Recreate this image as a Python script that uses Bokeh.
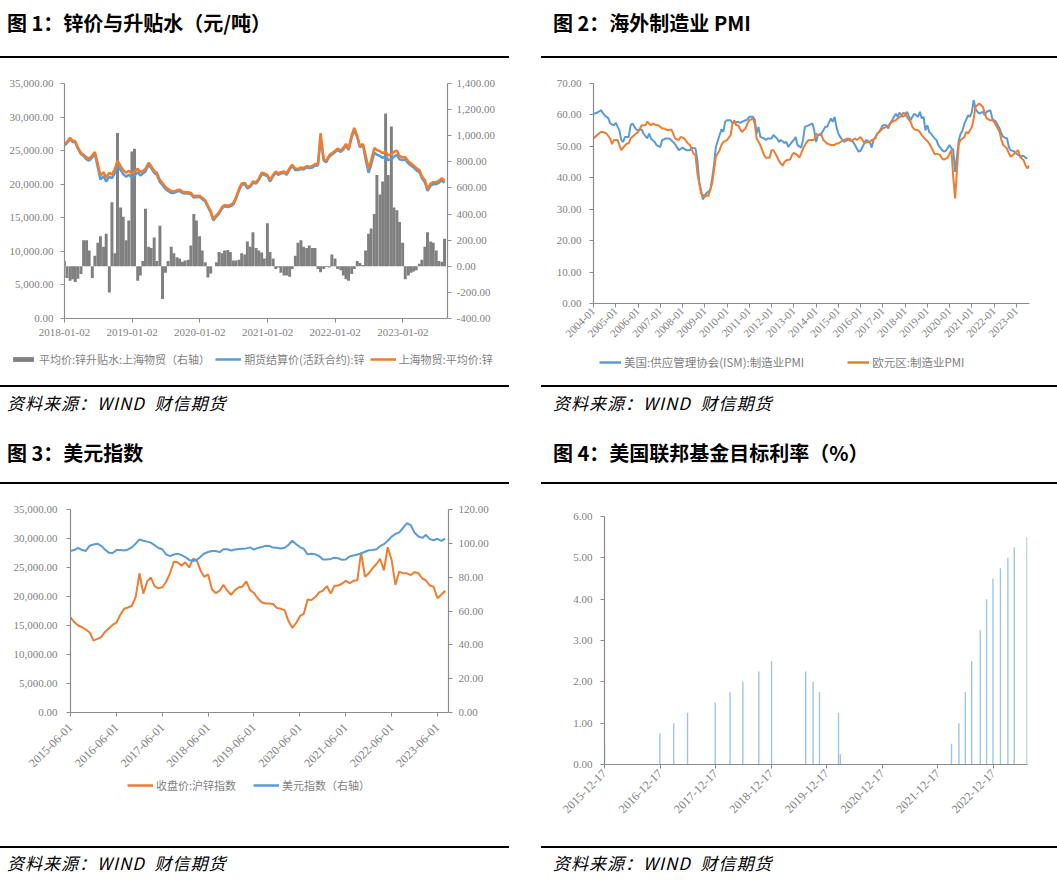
import pandas as pd
from bokeh.plotting import figure
from bokeh.models import (ColumnDataSource, Range1d, LinearAxis, FixedTicker,
                          NumeralTickFormatter, DatetimeTickFormatter, Legend,
                          LegendItem, Div, Spacer)
from bokeh.layouts import column, row
from bokeh.embed import file_html
from bokeh.resources import INLINE
from math import pi

# ---------------------------------------------------------------- colours
ORANGE = "#ED7D31"
BLUE = "#5B9BD5"
GRAY = "#808080"
FED = "#9DC3E6"
AXIS = "#8C8C8C"
LBL = "#7F7F7F"

# ---------------------------------------------------------------- chart 1 data (semi-monthly)
zinc_dates = pd.date_range("2018-01-01", "2023-08-15", freq="SMS")
zinc_ticks = ["2018-01-02", "2019-01-02", "2020-01-02", "2021-01-02", "2022-01-02", "2023-01-02"]
premium = [40, -90, -110, -100, -120, -95, -60, 200, 200, 120,
           -90, 80, 180, 230, 150, 250, -200, 490, 100, 1020,
           450, 380, 200, 350, 880, 900, -110, -70, 40, 440,
           150, 140, 220, 40, 310, -250, -50, 40, 150, 100,
           70, 60, 35, 45, 50, 160, 400, 350, 230, 120,
           30, -85, -55, 0, 30, 110, 100, 120, 125, 110,
           45, 45, 50, 100, 90, 190, 150, 260, 140, 120,
           105, 60, 330, 110, 60, -20, -10, -50, -70, -70,
           -80, -20, 80, 180, 200, 150, 140, 160, 140, 140,
           -20, -45, -20, -5, -10, 90, 60, -20, -30, -70,
           -100, -110, -60, -20, 40, 25, 10, 120, 250, 290,
           400, 700, 550, 650, 1170, 700, 1070, 450, 430, 340,
           180, -100, -70, -50, -40, -30, 20, 50, 150, 260,
           190, 180, 120, 40, 35, 210]
spot_avg = [26000, 26300, 26900, 26500, 26400, 25500, 24700, 24400, 24000, 23800,
            24300, 24800, 23000, 21300, 21800, 21000, 21700, 21400, 22300, 23500,
            22700, 22100, 21700, 22000, 21600, 21900, 22300, 21800, 22000, 22300,
            23200, 22700, 22000, 21700, 20600, 20200, 19600, 19300, 19000, 18900,
            19100, 19200, 18900, 18800, 18800, 18700, 18200, 18300, 18300, 18000,
            17600, 16800, 16000, 14800, 15400, 15800, 16600, 16900, 16800, 16900,
            17200, 18000, 19300, 20100, 20200, 19600, 19800, 20400, 20300, 20800,
            21700, 21600, 21400, 20600, 21400, 21900, 21600, 21800, 21900, 21600,
            22400, 22900, 22300, 22300, 22500, 22400, 22700, 22600, 22700, 23000,
            23000, 27600, 23700, 23500, 24300, 24600, 25000, 25300, 25000, 25400,
            26000, 25300, 27300, 28400, 27200, 25700, 26000, 24300, 22300, 23600,
            25400, 25100, 24900, 24600, 24900, 24300, 24400, 24800, 25000, 24200,
            24000, 24000, 23400, 23100, 22800, 22400, 22100, 21200, 20600, 19300,
            20100, 20300, 20300, 20500, 20900, 20500]
futures_settle = [25800, 26100, 26700, 26300, 26200, 25300, 24500, 24200, 23700, 23500,
                  24000, 24500, 22500, 20700, 21200, 20400, 21100, 20900, 21700, 22900,
                  22100, 21500, 21100, 21400, 21000, 21300, 21800, 21300, 21600, 21900,
                  22900, 22400, 21700, 21400, 20300, 19900, 19300, 19000, 18700, 18700,
                  18900, 19000, 18700, 18600, 18600, 18500, 18000, 18100, 18100, 17800,
                  17400, 16600, 15800, 14600, 15200, 15600, 16400, 16700, 16600, 16700,
                  17000, 17800, 19100, 19900, 20000, 19400, 19600, 20200, 20100, 20600,
                  21500, 21400, 21200, 20400, 21200, 21700, 21400, 21600, 21700, 21400,
                  22200, 22700, 22100, 22100, 22300, 22200, 22500, 22400, 22500, 22800,
                  22800, 26900, 23500, 23300, 24100, 24400, 24800, 25100, 24800, 25200,
                  25800, 25100, 27000, 28100, 27000, 25500, 25800, 23700, 21700, 22900,
                  24700, 24400, 24200, 23900, 24200, 23600, 23700, 24100, 24400, 23700,
                  23600, 23700, 23100, 22800, 22500, 22100, 21800, 20900, 20300, 19000,
                  19800, 20000, 20000, 20200, 20600, 20200]

# ---------------------------------------------------------------- chart 2 data (monthly PMI)
pmi_ticks = [f"{y}-01" for y in range(2004, 2024)]
ism_dates = ["2004-01", "2004-03", "2004-05", "2004-07", "2004-09", "2004-10", "2004-12",
             "2005-01", "2005-02", "2005-03", "2005-04", "2005-05", "2005-06", "2005-08", "2005-09", "2005-10", "2005-12",
             "2006-01", "2006-03", "2006-04", "2006-06", "2006-07", "2006-08", "2006-10", "2006-11",
             "2007-01", "2007-02", "2007-04", "2007-06", "2007-08", "2007-09", "2007-11",
             "2008-01", "2008-03", "2008-05", "2008-06", "2008-08", "2008-09", "2008-10", "2008-12",
             "2009-01", "2009-02", "2009-04", "2009-05", "2009-06", "2009-07", "2009-09", "2009-10", "2009-11", "2009-12",
             "2010-01", "2010-03", "2010-04", "2010-05", "2010-07", "2010-08", "2010-09", "2010-11", "2010-12",
             "2011-01", "2011-03", "2011-04", "2011-05", "2011-06", "2011-07", "2011-09", "2011-10", "2011-11",
             "2012-01", "2012-02", "2012-04", "2012-05", "2012-06", "2012-08", "2012-09", "2012-10", "2012-12",
             "2013-01", "2013-02", "2013-03", "2013-05", "2013-06", "2013-07", "2013-09", "2013-11", "2013-12",
             "2014-01", "2014-02", "2014-04", "2014-05", "2014-06", "2014-07", "2014-09", "2014-10", "2014-11", "2014-12",
             "2015-01", "2015-02", "2015-04", "2015-06", "2015-07", "2015-09", "2015-10", "2015-12",
             "2016-01", "2016-03", "2016-04", "2016-06", "2016-07", "2016-08", "2016-09", "2016-10", "2016-11",
             "2017-01", "2017-03", "2017-04", "2017-05", "2017-06", "2017-08", "2017-09", "2017-10", "2017-12",
             "2018-01", "2018-02", "2018-04", "2018-05", "2018-06", "2018-08", "2018-09", "2018-10", "2018-11", "2018-12",
             "2019-01", "2019-02", "2019-03", "2019-05", "2019-06", "2019-07", "2019-09", "2019-10", "2019-11",
             "2020-01", "2020-02", "2020-03", "2020-04", "2020-05", "2020-06", "2020-07", "2020-08", "2020-09", "2020-10", "2020-11", "2020-12",
             "2021-01", "2021-02", "2021-03", "2021-04", "2021-05", "2021-07", "2021-08", "2021-09", "2021-11", "2021-12",
             "2022-01", "2022-02", "2022-04", "2022-05", "2022-06", "2022-08", "2022-09", "2022-10", "2022-12",
             "2023-01", "2023-02", "2023-04", "2023-05", "2023-06", "2023-07"]
ism_pmi = [60.4, 60.7, 61.5, 59.9, 58.9, 57.3, 56.7,
           57.5, 56.2, 55.1, 52.0, 51.4, 53.0, 53.0, 56.7, 57.3, 55.4,
           55.1, 55.4, 54.1, 52.5, 54.1, 52.5, 51.4, 50.4,
           49.8, 52.0, 52.5, 52.5, 51.4, 50.7, 48.8,
           49.6, 48.8, 48.8, 49.6, 49.3, 45.6, 38.7, 33.1,
           34.5, 35.2, 36.1, 39.8, 44.0, 49.8, 53.6, 55.4, 54.6, 57.8,
           58.3, 58.3, 57.3, 57.5, 57.8, 57.5, 57.8, 58.3, 58.5,
           59.4, 59.4, 58.5, 54.1, 56.2, 53.0, 52.5, 52.0, 52.5,
           52.5, 53.6, 52.5, 51.4, 52.0, 51.1, 51.4, 49.8, 51.4,
           52.0, 53.0, 50.4, 49.6, 52.0, 56.2, 56.7, 57.3, 55.1,
           51.4, 53.6, 54.1, 55.1, 56.2, 56.2, 58.9, 57.8, 59.4, 56.2,
           54.1, 53.0, 51.4, 52.0, 52.5, 51.4, 50.4, 48.3,
           48.6, 50.9, 52.0, 51.4, 49.6, 52.0, 53.0, 54.1, 54.6,
           56.7, 56.7, 55.7, 57.3, 58.3, 60.4, 59.4, 60.7, 59.4,
           59.9, 61.0, 58.3, 59.4, 60.4, 59.4, 61.0, 58.9, 59.4, 55.1,
           56.7, 54.6, 54.1, 52.5, 52.0, 50.4, 48.8, 48.3, 48.6,
           50.4, 49.3, 49.0, 41.9, 46.7, 52.0, 54.0, 55.1, 57.3, 58.5, 59.9, 59.4,
           61.0, 64.7, 62.0, 61.0, 60.4, 61.0, 59.9, 61.0, 61.5, 58.9,
           58.3, 57.8, 55.7, 54.1, 53.0, 52.5, 49.8, 48.8, 48.3,
           47.7, 47.2, 46.9, 46.9, 46.4, 46.1]
ez_dates = ["2004-01", "2004-03", "2004-05", "2004-06", "2004-08", "2004-10", "2004-11", "2004-12",
            "2005-02", "2005-03", "2005-04", "2005-05", "2005-07", "2005-08", "2005-09", "2005-11",
            "2006-01", "2006-02", "2006-03", "2006-05", "2006-06", "2006-08", "2006-09", "2006-11", "2006-12",
            "2007-02", "2007-03", "2007-05", "2007-07", "2007-08", "2007-09", "2007-11", "2007-12",
            "2008-02", "2008-03", "2008-04", "2008-05", "2008-07", "2008-08", "2008-09", "2008-11", "2008-12",
            "2009-01", "2009-02", "2009-03", "2009-05", "2009-06", "2009-07", "2009-09", "2009-10", "2009-11",
            "2010-01", "2010-03", "2010-04", "2010-05", "2010-06", "2010-07", "2010-09", "2010-11", "2010-12",
            "2011-01", "2011-03", "2011-04", "2011-05", "2011-07", "2011-08", "2011-09", "2011-10", "2011-12",
            "2012-01", "2012-02", "2012-04", "2012-05", "2012-06", "2012-07", "2012-08", "2012-09", "2012-11", "2012-12",
            "2013-01", "2013-03", "2013-04", "2013-05", "2013-06", "2013-08", "2013-09", "2013-10", "2013-12",
            "2014-01", "2014-02", "2014-04", "2014-05", "2014-07", "2014-08", "2014-09", "2014-11", "2014-12",
            "2015-01", "2015-03", "2015-04", "2015-06", "2015-07", "2015-08", "2015-10", "2015-11",
            "2016-01", "2016-02", "2016-03", "2016-05", "2016-06", "2016-07", "2016-09", "2016-10", "2016-12",
            "2017-01", "2017-03", "2017-04", "2017-05", "2017-06", "2017-08", "2017-09", "2017-11", "2017-12",
            "2018-01", "2018-02", "2018-04", "2018-05", "2018-06", "2018-08", "2018-09", "2018-10", "2018-12",
            "2019-01", "2019-02", "2019-04", "2019-05", "2019-06", "2019-08", "2019-09", "2019-10", "2019-12",
            "2020-01", "2020-02", "2020-03", "2020-04", "2020-05", "2020-06", "2020-07", "2020-09", "2020-10", "2020-11",
            "2021-01", "2021-02", "2021-03", "2021-04", "2021-05", "2021-07", "2021-08", "2021-09", "2021-11", "2021-12",
            "2022-01", "2022-02", "2022-04", "2022-05", "2022-06", "2022-08", "2022-09", "2022-10", "2022-12",
            "2023-01", "2023-02", "2023-03", "2023-05", "2023-06", "2023-07", "2023-08"]
ez_pmi = [52.5, 53.6, 54.6, 54.6, 54.1, 52.5, 50.7, 52.0,
          52.0, 50.4, 48.8, 49.6, 50.9, 50.9, 52.5, 53.6,
          54.6, 55.7, 56.7, 56.7, 57.8, 56.7, 57.3, 56.7, 56.7,
          55.7, 55.7, 55.1, 55.4, 54.1, 52.5, 52.0, 53.0,
          52.5, 51.7, 50.9, 50.4, 47.7, 47.2, 41.4, 35.0, 34.5,
          33.9, 34.5, 34.2, 38.2, 42.4, 46.7, 48.8, 50.4, 51.4,
          52.0, 53.6, 57.3, 58.3, 56.7, 56.7, 54.6, 55.7, 57.3,
          58.3, 58.9, 57.3, 52.5, 50.4, 48.8, 47.2, 46.4, 46.4,
          48.8, 48.8, 46.7, 45.4, 44.5, 43.9, 45.0, 45.6, 45.8, 47.2,
          47.9, 47.2, 46.4, 47.7, 49.3, 51.4, 52.0, 52.0, 52.0,
          54.1, 53.6, 53.6, 52.0, 50.9, 50.7, 50.4, 50.4, 50.9,
          50.9, 51.7, 52.0, 52.5, 52.0, 51.7, 52.5, 52.0,
          53.0, 52.0, 51.1, 51.4, 51.4, 52.0, 52.5, 54.1, 55.1,
          55.7, 56.2, 56.4, 57.3, 57.8, 58.3, 58.9, 59.6, 60.7,
          60.4, 59.4, 57.8, 56.2, 55.4, 55.1, 54.6, 53.6, 52.2,
          51.7, 50.9, 48.8, 47.5, 47.7, 47.2, 46.1, 45.8, 46.4,
          47.7, 48.8, 40.3, 33.4, 42.4, 50.9, 52.0, 53.0, 54.6, 54.1,
          56.2, 58.9, 62.6, 63.1, 63.6, 62.6, 60.4, 58.9, 58.3, 58.3,
          57.8, 56.7, 54.6, 52.0, 50.4, 49.3, 47.7, 46.7, 47.7,
          48.3, 48.8, 46.7, 45.6, 43.9, 43.0, 43.9]

# ---------------------------------------------------------------- chart 3 data (monthly)
dx_dates = pd.date_range("2015-06-01", "2023-08-01", freq="MS")
dx_ticks = [f"{y}-06-01" for y in range(2015, 2024)]
shfe_zinc_index = [16400, 15600, 15000, 14700, 14300, 13800, 12400, 12700, 13000, 13900,
                   14500, 15100, 15500, 16800, 17900, 18100, 18400, 19900, 24000, 20500,
                   22600, 23300, 21800, 21400, 21600, 22500, 24000, 26000, 25900, 25300,
                   25900, 25000, 26500, 26300, 24500, 23400, 23800, 21200, 20600, 21000,
                   22000, 21000, 20300, 21100, 21600, 21700, 22600, 21100, 20600, 19700,
                   19000, 18800, 18800, 18700, 18000, 17900, 17600, 15800, 14600, 15400,
                   16600, 17000, 19500, 19400, 19900, 20700, 21000, 21800, 20500, 21800,
                   21900, 22200, 22700, 22300, 22700, 22800, 27600, 23400, 24000, 24900,
                   25600, 26500, 24500, 28500, 26300, 22000, 24300, 24000, 24000, 23700,
                   24200, 24000, 23100, 22800, 21900, 21700, 19700, 20300, 21000]
usd_index = [95.5, 96.0, 97.3, 96.0, 95.5, 98.6, 99.3, 99.8, 98.5, 96.4,
             94.5, 94.3, 96.0, 96.0, 95.8, 96.4, 97.6, 99.8, 102.3, 101.5,
             101.0, 100.4, 98.9, 97.2, 96.5, 93.5, 92.4, 93.4, 93.9, 93.0,
             91.9, 90.2, 89.6, 90.0, 92.0, 94.0, 94.9, 95.5, 95.5, 94.8,
             96.5, 96.5, 95.8, 96.3, 96.6, 96.8, 97.0, 97.6, 96.3, 97.3,
             97.8, 98.5, 98.4, 97.5, 97.4, 97.0, 97.4, 99.0, 101.5, 99.5,
             97.8, 96.8, 93.5, 93.8, 93.5, 92.5, 90.5, 90.5, 90.8, 91.5,
             91.2, 90.3, 90.5, 92.2, 92.8, 93.4, 94.0, 95.0, 95.9, 96.0,
             96.5, 98.3, 99.5, 101.5, 104.0, 105.5, 106.5, 109.2, 112.0, 110.7,
             106.2, 104.0, 103.2, 105.0, 102.5, 101.8, 102.7, 101.5, 102.8]

# ---------------------------------------------------------------- chart 4 data (FOMC decisions)
fed_ticks = [f"{y}-12-17" for y in range(2015, 2023)]
fed_dates = ["2015-12-17", "2016-12-15", "2017-03-16", "2017-06-15", "2017-12-14",
             "2018-03-22", "2018-06-14", "2018-09-27", "2018-12-20", "2019-08-01",
             "2019-09-19", "2019-10-31", "2020-03-04", "2020-03-16", "2022-03-17",
             "2022-05-05", "2022-06-16", "2022-07-28", "2022-09-22", "2022-11-03",
             "2022-12-15", "2023-02-02", "2023-03-23", "2023-05-04", "2023-07-27"]
fed_rate = [0.50, 0.75, 1.00, 1.25, 1.50, 1.75, 2.00, 2.25, 2.50, 2.25,
            2.00, 1.75, 1.25, 0.25, 0.50, 1.00, 1.75, 2.50, 3.25, 4.00,
            4.50, 4.75, 5.00, 5.25, 5.50]

# ---------------------------------------------------------------- helpers
DAY = 86400000
CJK = "Noto Sans CJK SC"
SERIF = "Liberation Serif"


def ts(s):
    return pd.Timestamp(s).to_pydatetime()


def ms(s):
    return float(pd.Timestamp(s).value // 10**6)


def date_fmt(f):
    keys = ["microseconds", "milliseconds", "seconds", "minsec", "minutes",
            "hourmin", "hours", "days", "months", "years"]
    return DatetimeTickFormatter(**{k: f for k in keys})


def style_axis(ax, tick_out=4, standoff=7, size="11px"):
    ax.axis_line_color = AXIS
    ax.axis_line_width = 1.2
    ax.major_tick_line_color = AXIS
    ax.minor_tick_line_color = None
    ax.major_tick_in = 0
    ax.major_tick_out = tick_out
    ax.major_label_standoff = standoff
    ax.major_label_text_font = SERIF
    ax.major_label_text_font_size = size
    ax.major_label_text_color = LBL


def make_fig(w, h, x0, x1, y0, y1, ml, mr, mt, mb):
    p = figure(width=w, height=h, title=None, x_axis_type="datetime",
               x_range=Range1d(ts(x0), ts(x1)), y_range=Range1d(y0, y1),
               output_backend="svg", toolbar_location=None, frame_align=False,
               min_border_left=ml, min_border_right=mr,
               min_border_top=mt, min_border_bottom=mb)
    p.outline_line_color = None
    p.xgrid.visible = False
    p.ygrid.visible = False
    p.background_fill_color = "white"
    p.border_fill_color = "white"
    return p


def legend_fig(w, h, entries, loc, spacing, glyph_w, glyph_h, padding=4, size="11px"):
    """A strip under a chart that only carries that chart's legend."""
    lf = figure(width=w, height=h, title=None, x_range=Range1d(0, 1), y_range=Range1d(0, 1),
                x_axis_location=None, y_axis_location=None, output_backend="svg",
                toolbar_location=None, min_border=0, frame_align=False)
    lf.outline_line_color = None
    lf.grid.visible = False
    lf.background_fill_color = "white"
    lf.border_fill_color = "white"
    items = []
    for label, kind, color in entries:
        # the sample marks lie outside the strip's range; only the legend swatch shows
        if kind == "bar":
            r = lf.vbar(x=[5], top=[6], bottom=[5], width=0.1, fill_color=color, line_color=None)
        else:
            r = lf.line(x=[5, 6], y=[5, 6], line_color=color, line_width=2.5)
        items.append(LegendItem(label=label, renderers=[r]))
    lg = Legend(items=items, orientation="horizontal", location=loc,
                spacing=spacing, glyph_width=glyph_w, glyph_height=glyph_h,
                label_height=14, label_standoff=3, margin=0, padding=padding,
                label_text_font=CJK, label_text_font_size=size,
                label_text_color=LBL, border_line_color=None,
                background_fill_alpha=0)
    lf.add_layout(lg)
    return lf


# ---------------------------------------------------------------- chart 1
p1 = make_fig(500, 285, "2018-01-02", "2023-08-31", 0, 35000, 64, 53, 23, 27)
p1.extra_y_ranges = {"prem": Range1d(-400, 1400)}
src1 = ColumnDataSource(dict(d=zinc_dates, prem=premium, fut=futures_settle, spot=spot_avg))
p1.vbar(x="d", top="prem", bottom=0, width=16 * DAY, source=src1,
        y_range_name="prem", fill_color=GRAY, line_color=None)
p1.line("d", "fut", source=src1, color=BLUE, line_width=2.5)
p1.line("d", "spot", source=src1, color=ORANGE, line_width=2.5)
p1.yaxis.ticker = FixedTicker(ticks=list(range(0, 35001, 5000)))
p1.yaxis.formatter = NumeralTickFormatter(format="0,0.00")
style_axis(p1.yaxis[0], 4, 7)
ax1r = LinearAxis(y_range_name="prem", ticker=FixedTicker(ticks=list(range(-400, 1401, 200))),
                  formatter=NumeralTickFormatter(format="0,0.00"))
style_axis(ax1r, 4, 5)
p1.add_layout(ax1r, "right")
p1.xaxis.ticker = FixedTicker(ticks=[ms(t) for t in zinc_ticks])
p1.xaxis.formatter = date_fmt("%Y-%m-%d")
style_axis(p1.xaxis[0], 4, 6)
l1 = legend_fig(500, 40, [("平均价:锌升贴水:上海物贸（右轴）", "bar", GRAY),
                          ("期货结算价(活跃合约):锌", "line", BLUE),
                          ("上海物贸:平均价:锌", "line", ORANGE)],
                (10, 18), 5, 26, 6)

# ---------------------------------------------------------------- chart 2
p2 = make_fig(516, 290, "2004-01-01", "2023-08-05", 0, 70, 52, 28, 23, 47)
p2.line(pd.to_datetime(ism_dates), ism_pmi, color=BLUE, line_width=2)
p2.line(pd.to_datetime(ez_dates), ez_pmi, color=ORANGE, line_width=2)
p2.yaxis.ticker = FixedTicker(ticks=list(range(0, 71, 10)))
p2.yaxis.formatter = NumeralTickFormatter(format="0.00")
style_axis(p2.yaxis[0], 4, 8)
p2.xaxis.ticker = FixedTicker(ticks=[ms(t) for t in pmi_ticks])
p2.xaxis.formatter = date_fmt("%Y-%m")
p2.xaxis.major_label_orientation = pi / 4
style_axis(p2.xaxis[0], 4, 2)
l2 = legend_fig(516, 35, [("美国:供应管理协会(ISM):制造业PMI", "line", BLUE),
                          ("欧元区:制造业PMI", "line", ORANGE)],
                (58, 15), 43, 22, 8, size="11.5px")

# ---------------------------------------------------------------- chart 3
p3 = make_fig(500, 289, "2015-06-01", "2023-08-28", 0, 35000, 70, 52, 21, 65)
p3.extra_y_ranges = {"usd": Range1d(0, 120)}
src3 = ColumnDataSource(dict(d=dx_dates, zn=shfe_zinc_index, usd=usd_index))
p3.line("d", "zn", source=src3, color=ORANGE, line_width=2)
p3.line("d", "usd", source=src3, color=BLUE, line_width=2, y_range_name="usd")
p3.yaxis.ticker = FixedTicker(ticks=list(range(0, 35001, 5000)))
p3.yaxis.formatter = NumeralTickFormatter(format="0,0.00")
style_axis(p3.yaxis[0], 4, 9)
ax3r = LinearAxis(y_range_name="usd", ticker=FixedTicker(ticks=list(range(0, 121, 20))),
                  formatter=NumeralTickFormatter(format="0.00"))
style_axis(ax3r, 4, 6)
p3.add_layout(ax3r, "right")
p3.xaxis.ticker = FixedTicker(ticks=[ms(t) for t in dx_ticks])
p3.xaxis.formatter = date_fmt("%Y-%m-%d")
p3.xaxis.major_label_orientation = pi / 4
style_axis(p3.xaxis[0], 4, 9, "12px")
l3 = legend_fig(500, 69, [("收盘价:沪锌指数", "line", ORANGE),
                          ("美元指数（右轴）", "line", BLUE)],
                (127, 53), 17, 26, 8, padding=2)

# ---------------------------------------------------------------- chart 4
p4 = make_fig(516, 358, "2015-12-17", "2023-07-30", 0, 6, 63, 30, 28, 82)
p4.vbar(x=pd.to_datetime(fed_dates), top=fed_rate, bottom=0, width=9 * DAY,
        fill_color=FED, line_color=None)
p4.yaxis.ticker = FixedTicker(ticks=[0, 1, 2, 3, 4, 5, 6])
p4.yaxis.formatter = NumeralTickFormatter(format="0.00")
style_axis(p4.yaxis[0], 4, 8)
p4.xaxis.ticker = FixedTicker(ticks=[ms(t) for t in fed_ticks])
p4.xaxis.formatter = date_fmt("%Y-%m-%d")
p4.xaxis.major_label_orientation = pi / 4
style_axis(p4.xaxis[0], 4, 3, "12px")

# ---------------------------------------------------------------- text blocks
TITLE_CSS = (f"position:absolute;white-space:nowrap;font-family:'{CJK}';font-weight:bold;"
             "font-size:20px;line-height:24px;color:#000;")
SRC_CSS = (f"position:absolute;white-space:nowrap;font-family:'{CJK}';font-style:italic;"
           "font-size:17px;line-height:20px;letter-spacing:1px;color:#000;")
SRC_TEXT = "资料来源：WIND&nbsp;&nbsp;财信期货"


def top_title(text, w, lx):
    html = (f'<div style="position:relative;width:{w}px;height:58px;border-bottom:2px solid #000;">'
            f'<span style="{TITLE_CSS}left:{lx}px;top:11px;">{text}</span></div>')
    return Div(text=html, width=w, height=60, margin=0)


def mid_block(text, w, lx):
    html = (f'<div style="position:relative;width:{w}px;height:99px;'
            f'border-top:2px solid #000;border-bottom:2px solid #000;">'
            f'<span style="{SRC_CSS}left:{lx}px;top:6px;">{SRC_TEXT}</span>'
            f'<span style="{TITLE_CSS}left:{lx}px;top:54px;">{text}</span></div>')
    return Div(text=html, width=w, height=103, margin=0)


def bottom_src(w, lx):
    html = (f'<div style="position:relative;width:{w}px;height:33px;border-top:2px solid #000;">'
            f'<span style="{SRC_CSS}left:{lx}px;top:5px;">{SRC_TEXT}</span></div>')
    return Div(text=html, width=w, height=35, margin=0)


left = column(top_title("图 1：锌价与升贴水（元/吨）", 509, 7), p1, l1,
              mid_block("图 3：美元指数", 509, 7), p3, l3,
              bottom_src(509, 7), width=509)
right = column(top_title("图 2：海外制造业 PMI", 516, 12), p2, l2,
               mid_block("图 4：美国联邦基金目标利率（%）", 516, 12), p4,
               bottom_src(516, 12), width=516)
layout = row(left, Spacer(width=32, height=881), right)

open("out.html", "w").write(file_html(layout, INLINE))
